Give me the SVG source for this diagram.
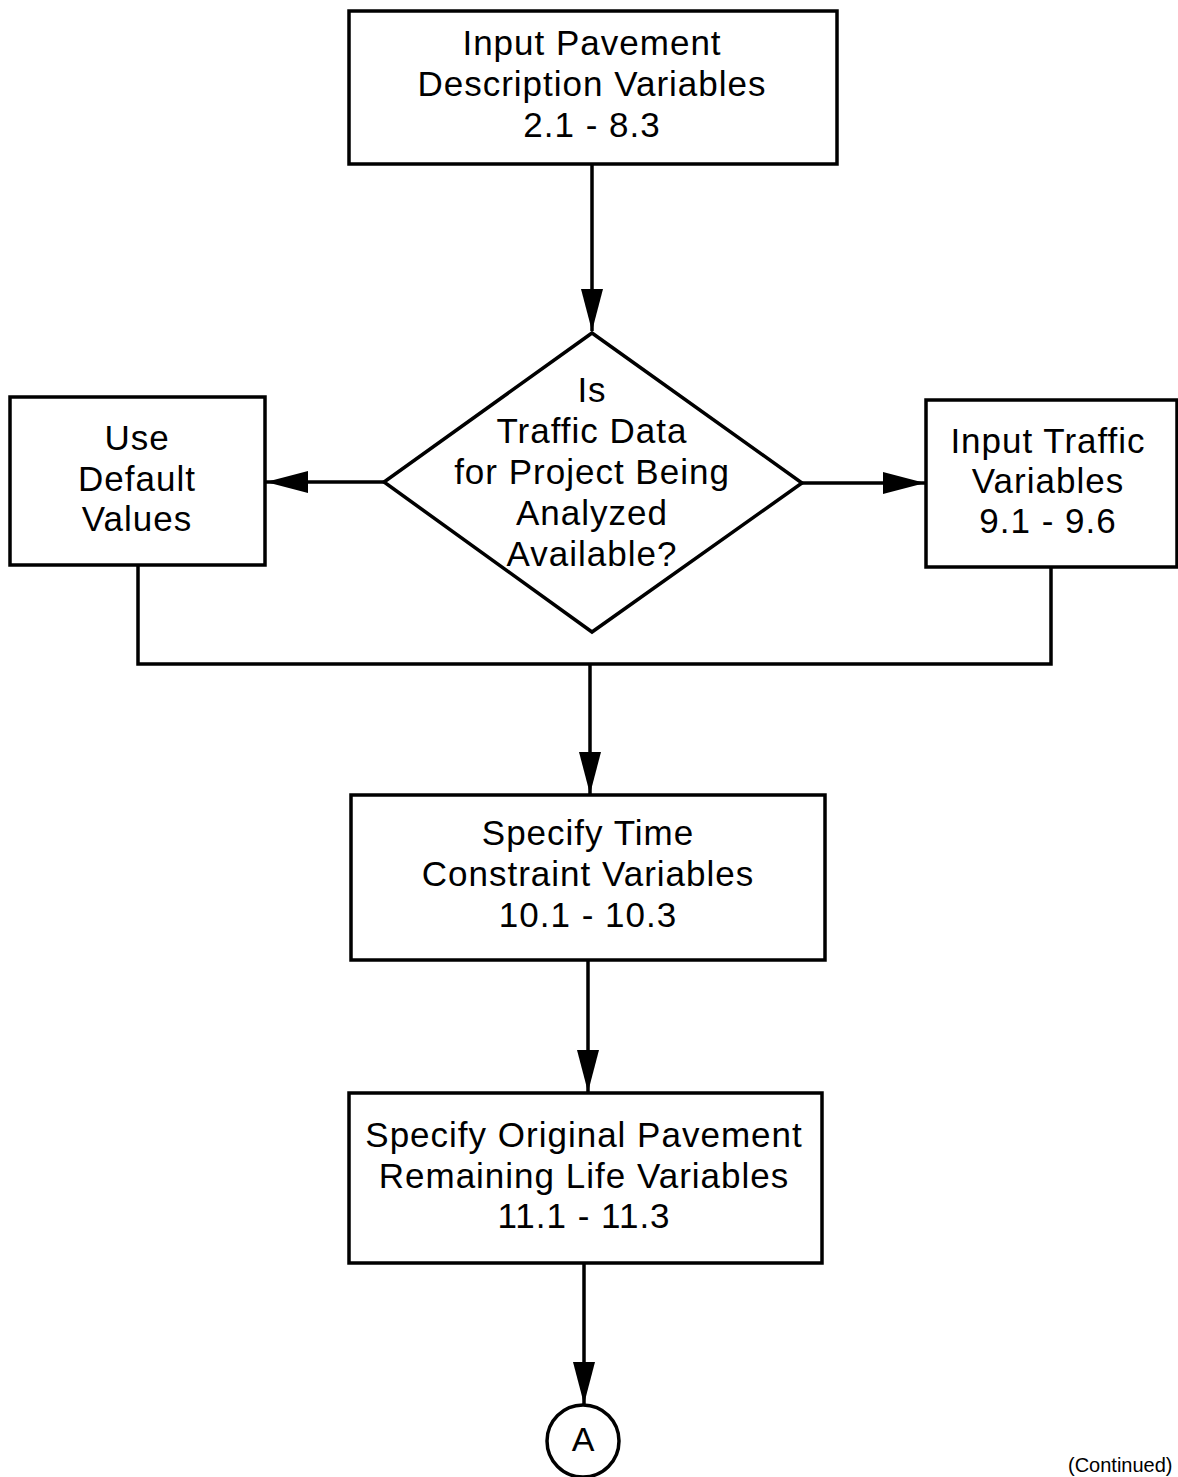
<svg xmlns="http://www.w3.org/2000/svg" width="1178" height="1477" viewBox="0 0 1178 1477">
<style>
  .box { fill: #fff; stroke: #000; stroke-width: 3.5; }
  .lbl { font-family: "Liberation Sans", Arial, sans-serif; font-size: 35px; letter-spacing: 1px; text-anchor: middle; fill: #000; }
  .conn { fill: none; stroke: #000; stroke-width: 3.5; }
  .note { font-family: "Liberation Sans", Arial, sans-serif; font-size: 20px; fill: #000; }
</style>
<defs>
  <marker id="arr" markerUnits="userSpaceOnUse" markerWidth="42" markerHeight="22" refX="42" refY="11" orient="auto">
    <path d="M0,0 L42,11 L0,22 z" fill="#000"/>
  </marker>
</defs>
<rect width="1178" height="1477" fill="#fff"/>
<g id="connectors">
  <line class="conn" x1="592" y1="164" x2="592" y2="331" marker-end="url(#arr)"/>
  <line class="conn" x1="384" y1="482" x2="266" y2="482" marker-end="url(#arr)"/>
  <line class="conn" x1="802" y1="483" x2="925" y2="483" marker-end="url(#arr)"/>
  <polyline class="conn" points="138,565 138,664 1051,664 1051,567"/>
  <line class="conn" x1="590" y1="664" x2="590" y2="794" marker-end="url(#arr)"/>
  <line class="conn" x1="588" y1="960" x2="588" y2="1092" marker-end="url(#arr)"/>
  <line class="conn" x1="584" y1="1263" x2="584" y2="1404" marker-end="url(#arr)"/>
</g>
<g id="node-input-pavement">
  <rect class="box" x="349" y="11" width="488" height="153"/>
  <text class="lbl" x="592" y="55">Input Pavement</text>
  <text class="lbl" x="592" y="96">Description Variables</text>
  <text class="lbl" x="592" y="137">2.1 - 8.3</text>
</g>
<g id="node-decision">
  <polygon class="box" points="592,333 802,483 592,632 384,482"/>
  <text class="lbl" x="592" y="402">Is</text>
  <text class="lbl" x="592" y="443">Traffic Data</text>
  <text class="lbl" x="592" y="484">for Project Being</text>
  <text class="lbl" x="592" y="525">Analyzed</text>
  <text class="lbl" x="592" y="566">Available?</text>
</g>
<g id="node-default">
  <rect class="box" x="10" y="397" width="255" height="168"/>
  <text class="lbl" x="137" y="450">Use</text>
  <text class="lbl" x="137" y="491">Default</text>
  <text class="lbl" x="137" y="531">Values</text>
</g>
<g id="node-traffic">
  <rect class="box" x="926" y="400" width="251" height="167"/>
  <text class="lbl" x="1048" y="453">Input Traffic</text>
  <text class="lbl" x="1048" y="493">Variables</text>
  <text class="lbl" x="1048" y="533">9.1 - 9.6</text>
</g>
<g id="node-time">
  <rect class="box" x="351" y="795" width="474" height="165"/>
  <text class="lbl" x="588" y="845">Specify Time</text>
  <text class="lbl" x="588" y="886">Constraint Variables</text>
  <text class="lbl" x="588" y="927">10.1 - 10.3</text>
</g>
<g id="node-remaining">
  <rect class="box" x="349" y="1093" width="473" height="170"/>
  <text class="lbl" x="584" y="1147">Specify Original Pavement</text>
  <text class="lbl" x="584" y="1188">Remaining Life Variables</text>
  <text class="lbl" x="584" y="1228">11.1 - 11.3</text>
</g>
<g id="node-A">
  <circle class="box" cx="583" cy="1441" r="36"/>
  <text class="lbl" x="583" y="1451" style="font-size:34px;letter-spacing:0">A</text>
</g>
<text class="note" x="1068" y="1472">(Continued)</text>
</svg>
